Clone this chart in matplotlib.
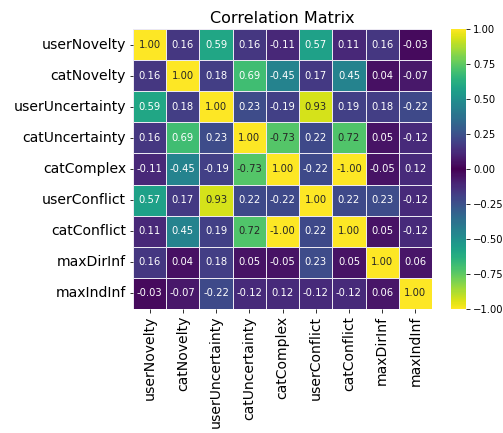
import numpy as np
import matplotlib
matplotlib.use("Agg")
from matplotlib import pyplot as plt
from matplotlib.colors import ListedColormap
import seaborn as sns

labels = ['userNovelty', 'catNovelty', 'userUncertainty', 'catUncertainty',
          'catComplex', 'userConflict', 'catConflict', 'maxDirInf', 'maxIndInf']

row_userNovelty = [1.00, 0.16, 0.59, 0.16, -0.11, 0.57, 0.11, 0.16, -0.03]
row_catNovelty = [0.16, 1.00, 0.18, 0.69, -0.45, 0.17, 0.45, 0.04, -0.07]
row_userUncertainty = [0.59, 0.18, 1.00, 0.23, -0.19, 0.93, 0.19, 0.18, -0.22]
row_catUncertainty = [0.16, 0.69, 0.23, 1.00, -0.73, 0.22, 0.72, 0.05, -0.12]
row_catComplex = [-0.11, -0.45, -0.19, -0.73, 1.00, -0.22, -1.00, -0.05, 0.12]
row_userConflict = [0.57, 0.17, 0.93, 0.22, -0.22, 1.00, 0.22, 0.23, -0.12]
row_catConflict = [0.11, 0.45, 0.19, 0.72, -1.00, 0.22, 1.00, 0.05, -0.12]
row_maxDirInf = [0.16, 0.04, 0.18, 0.05, -0.05, 0.23, 0.05, 1.00, 0.06]
row_maxIndInf = [-0.03, -0.07, -0.22, -0.12, 0.12, -0.12, -0.12, 0.06, 1.00]

corr = np.array([row_userNovelty, row_catNovelty, row_userUncertainty,
                 row_catUncertainty, row_catComplex, row_userConflict,
                 row_catConflict, row_maxDirInf, row_maxIndInf])

# symmetric viridis: yellow at both ends, dark purple at zero
vir = plt.get_cmap('viridis')(np.linspace(0, 1, 128))
cmap = ListedColormap(np.vstack([vir[::-1], vir]))

# 72 dpi so font sizes map 1pt -> 1px
W, H = 503, 433
fig = plt.figure(figsize=(W / 72, H / 72), dpi=72)
ax = fig.add_axes([133 / W, 1 - 309 / H, 299 / W, 280 / H])
cax = fig.add_axes([451 / W, 1 - 309 / H, 15 / W, 280 / H])

sns.heatmap(corr, ax=ax, cbar_ax=cax, cmap=cmap, vmin=-1, vmax=1,
            annot=True, fmt='.2f', annot_kws={'fontsize': 10},
            linewidths=0.8, linecolor='#ebe8f2',
            xticklabels=labels, yticklabels=labels)

ax.set_title('Correlation Matrix', fontsize=16)
ax.set_xticklabels(labels, rotation=90, fontsize=14)
ax.set_yticklabels(labels, rotation=0, fontsize=14)
cax.tick_params(labelsize=10)

fig.savefig('out.png', dpi=72)
